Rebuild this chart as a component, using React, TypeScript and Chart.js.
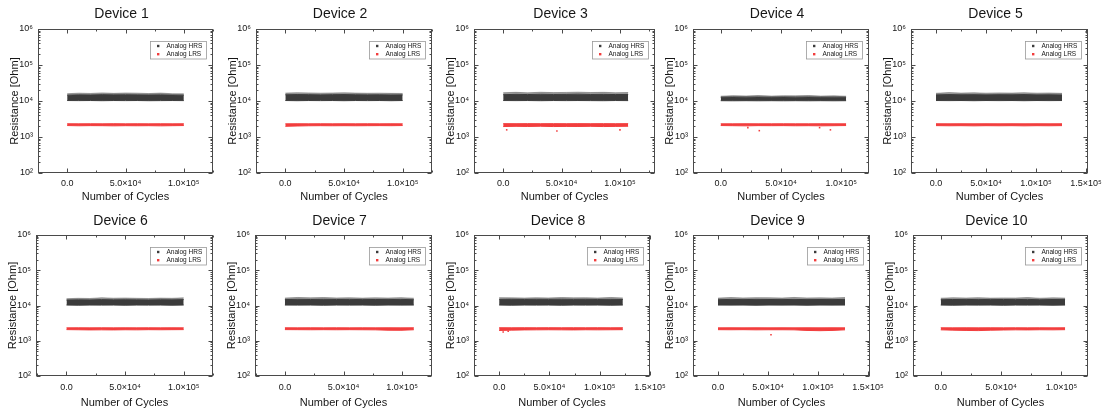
import React, { useEffect, useRef } from "react";
import { Chart, registerables } from "chart.js";

Chart.register(...registerables);

// ---------- text ----------
const deviceNames = ["Device 1", "Device 2", "Device 3", "Device 4", "Device 5", "Device 6", "Device 7", "Device 8", "Device 9", "Device 10"];
const seriesLabels = ["Analog HRS", "Analog LRS"];
const xAxisTitle = "Number of Cycles";
const yAxisTitle = "Resistance [Ohm]";

// ---------- ticks ----------
const xTickValues = [0, 50000, 100000, 150000];
const xTickLabels = ["0.0", "5.0×10⁴", "1.0×10⁵", "1.5×10⁵"];
const yTickValues = [100, 1000, 10000, 100000, 1000000];
const yTickLabels = ["10²", "10³", "10⁴", "10⁵", "10⁶"];

// ---------- axis ranges per device ----------
const xAxisMin = [-25000, -25000, -25000, -23000, -25000, -26000, -25500, -25000, -25000, -23000];
const xAxisMax = [125000, 125000, 130000, 123000, 152000, 125000, 125500, 150000, 152000, 122000];

// ---------- data (envelopes of the dense scatter bands) ----------
const cyclesTo100k = [0, 10000, 20000, 30000, 40000, 50000, 60000, 70000, 80000, 90000, 100000];
const cyclesD3 = [0, 11000, 21000, 32000, 43000, 54000, 64000, 75000, 86000, 96000, 107000];
const cyclesD4 = [0, 10000, 21000, 31000, 42000, 52000, 62000, 73000, 83000, 94000, 104000];
const cyclesD5 = [0, 13000, 25000, 38000, 50000, 63000, 76000, 88000, 101000, 113000, 126000];
const cyclesD7 = [0, 11000, 22000, 33000, 44000, 55000, 66000, 77000, 88000, 99000, 110000];
const cyclesD8 = [0, 12000, 25000, 37000, 49000, 62000, 74000, 86000, 98000, 111000, 123000];
const cyclesD9 = [0, 13000, 25000, 38000, 51000, 64000, 76000, 89000, 102000, 114000, 127000];
const cyclesD10 = [0, 10000, 21000, 31000, 41000, 52000, 62000, 72000, 82000, 93000, 103000];

const hrsLow1 = [10300, 10250, 10300, 10200, 10300, 10250, 10300, 10200, 10250, 10300, 10250];
const hrsHigh1 = [14500, 14800, 14700, 15000, 14800, 14900, 14800, 14700, 14800, 14600, 14500];
const hrsPeak1 = [15900, 16500, 16200, 16800, 16300, 16700, 16500, 16100, 16600, 15900, 15800];
const lrsLow1 = [2080, 2050, 2070, 2060, 2040, 2060, 2050, 2060, 2040, 2060, 2080];
const lrsHigh1 = [2330, 2320, 2330, 2320, 2340, 2320, 2330, 2320, 2330, 2320, 2330];

const hrsLow2 = [10300, 10200, 10300, 10250, 10300, 10200, 10300, 10250, 10300, 10200, 10300];
const hrsHigh2 = [14900, 15100, 15000, 14800, 15000, 15100, 14900, 14800, 14900, 14700, 14800];
const hrsPeak2 = [16600, 17000, 16800, 16500, 16700, 16900, 16600, 16400, 16500, 16300, 16200];
const lrsLow2 = [1980, 2020, 2050, 2060, 2050, 2060, 2050, 2060, 2070, 2060, 2080];
const lrsHigh2 = [2320, 2330, 2320, 2330, 2320, 2330, 2320, 2330, 2320, 2330, 2320];

const hrsLow3 = [10300, 10250, 10300, 10200, 10300, 10250, 10300, 10250, 10200, 10300, 10250];
const hrsHigh3 = [15000, 15300, 15100, 15400, 15200, 15300, 15500, 15200, 15300, 15100, 15200];
const hrsPeak3 = [17000, 17400, 16900, 17500, 17100, 17300, 17600, 17200, 17400, 17000, 17200];
const lrsLow3 = [1950, 1980, 1960, 1990, 1950, 1970, 1960, 1980, 1950, 1970, 1990];
const lrsHigh3 = [2350, 2340, 2350, 2340, 2350, 2340, 2350, 2340, 2350, 2340, 2350];
const lrsOutCycles3 = [3000, 46000, 100000];
const lrsOutValues3 = [1580, 1470, 1580];

const hrsLow4 = [10200, 10150, 10200, 10150, 10200, 10150, 10200, 10150, 10200, 10150, 10200];
const hrsHigh4 = [12700, 12900, 12800, 12900, 12700, 12900, 12800, 12900, 12700, 12800, 12700];
const hrsPeak4 = [13600, 14100, 13800, 14200, 13700, 14000, 13900, 14200, 13700, 13900, 13600];
const lrsLow4 = [2080, 2060, 2040, 2070, 2060, 2070, 2050, 2060, 2040, 2060, 2080];
const lrsHigh4 = [2320, 2320, 2330, 2320, 2320, 2330, 2320, 2320, 2330, 2320, 2320];
const lrsOutCycles4 = [22500, 32000, 82000, 91000];
const lrsOutValues4 = [1820, 1500, 1820, 1580];

const hrsLow5 = [10300, 10250, 10300, 10200, 10300, 10250, 10300, 10200, 10300, 10250, 10300];
const hrsHigh5 = [14800, 15100, 14900, 15000, 14800, 15000, 14900, 15100, 14800, 14900, 14700];
const hrsPeak5 = [16400, 17100, 16600, 16900, 16500, 16800, 16600, 17000, 16500, 16700, 16300];
const lrsLow5 = [2070, 2050, 2060, 2040, 2060, 2050, 2060, 2040, 2060, 2050, 2070];
const lrsHigh5 = [2330, 2320, 2330, 2320, 2330, 2320, 2330, 2320, 2330, 2320, 2330];

const hrsLow6 = [10300, 10200, 10300, 10250, 10300, 10200, 10300, 10250, 10300, 10200, 10300];
const hrsHigh6 = [14300, 14500, 14400, 14700, 14500, 14600, 14500, 14400, 14600, 14500, 14700];
const hrsPeak6 = [15600, 16000, 15800, 16600, 16100, 16300, 16000, 15800, 16200, 16000, 16500];
const lrsLow6 = [2070, 2050, 2030, 2040, 2030, 2050, 2040, 2060, 2050, 2060, 2070];
const lrsHigh6 = [2320, 2330, 2320, 2330, 2320, 2330, 2320, 2330, 2320, 2330, 2320];

const hrsLow7 = [10300, 10250, 10300, 10200, 10300, 10250, 10300, 10200, 10300, 10250, 10300];
const hrsHigh7 = [14700, 15000, 14800, 15000, 14800, 14900, 14700, 14800, 14700, 14900, 14600];
const hrsPeak7 = [16300, 16900, 16500, 16800, 16400, 16600, 16200, 16500, 16300, 16700, 16100];
const lrsLow7 = [2070, 2060, 2050, 2060, 2050, 2060, 2050, 2040, 1990, 1980, 2050];
const lrsHigh7 = [2330, 2320, 2330, 2320, 2330, 2320, 2330, 2320, 2330, 2320, 2330];

const hrsLow8 = [10300, 10200, 10300, 10250, 10300, 10200, 10300, 10250, 10300, 10200, 10300];
const hrsHigh8 = [14900, 15000, 14800, 15000, 14900, 15100, 14900, 15000, 14800, 15000, 14800];
const hrsPeak8 = [16700, 16500, 16300, 16600, 16400, 16800, 16500, 16600, 16300, 16900, 16400];
const lrsLow8 = [1950, 2000, 2030, 2040, 2050, 2040, 2030, 2050, 2040, 2050, 2060];
const lrsHigh8 = [2340, 2330, 2340, 2330, 2340, 2330, 2340, 2330, 2340, 2330, 2340];
const lrsOutCycles8 = [4000, 9000];
const lrsOutValues8 = [1760, 1850];

const hrsLow9 = [10300, 10250, 10300, 10200, 10300, 10250, 10300, 10200, 10300, 10250, 10300];
const hrsHigh9 = [14600, 14900, 14700, 14900, 14800, 14700, 14900, 14700, 14800, 14700, 14900];
const hrsPeak9 = [16200, 16800, 16400, 16700, 16600, 16300, 16900, 16400, 16500, 16300, 16800];
const lrsLow9 = [2060, 2050, 2060, 2040, 2050, 2050, 2040, 1960, 1930, 1960, 2040];
const lrsHigh9 = [2320, 2330, 2320, 2330, 2320, 2330, 2320, 2330, 2320, 2330, 2320];
const lrsOutCycles9 = [53000];
const lrsOutValues9 = [1480];

const hrsLow10 = [10300, 10200, 10300, 10250, 10300, 10200, 10300, 10250, 10300, 10200, 10300];
const hrsHigh10 = [14600, 14800, 14700, 14900, 14700, 14800, 14700, 14900, 14600, 14800, 14700];
const hrsPeak10 = [16100, 16600, 16300, 16700, 16200, 16400, 16300, 16800, 16100, 16500, 16200];
const lrsLow10 = [2040, 2000, 1960, 1940, 1990, 2020, 2040, 2030, 2050, 2040, 2060];
const lrsHigh10 = [2330, 2320, 2330, 2320, 2330, 2320, 2330, 2320, 2330, 2320, 2330];

const deviceData = [
  { cycles: cyclesTo100k, hrsLow: hrsLow1, hrsHigh: hrsHigh1, hrsPeak: hrsPeak1, lrsLow: lrsLow1, lrsHigh: lrsHigh1, outC: [], outV: [] },
  { cycles: cyclesTo100k, hrsLow: hrsLow2, hrsHigh: hrsHigh2, hrsPeak: hrsPeak2, lrsLow: lrsLow2, lrsHigh: lrsHigh2, outC: [], outV: [] },
  { cycles: cyclesD3, hrsLow: hrsLow3, hrsHigh: hrsHigh3, hrsPeak: hrsPeak3, lrsLow: lrsLow3, lrsHigh: lrsHigh3, outC: lrsOutCycles3, outV: lrsOutValues3 },
  { cycles: cyclesD4, hrsLow: hrsLow4, hrsHigh: hrsHigh4, hrsPeak: hrsPeak4, lrsLow: lrsLow4, lrsHigh: lrsHigh4, outC: lrsOutCycles4, outV: lrsOutValues4 },
  { cycles: cyclesD5, hrsLow: hrsLow5, hrsHigh: hrsHigh5, hrsPeak: hrsPeak5, lrsLow: lrsLow5, lrsHigh: lrsHigh5, outC: [], outV: [] },
  { cycles: cyclesTo100k, hrsLow: hrsLow6, hrsHigh: hrsHigh6, hrsPeak: hrsPeak6, lrsLow: lrsLow6, lrsHigh: lrsHigh6, outC: [], outV: [] },
  { cycles: cyclesD7, hrsLow: hrsLow7, hrsHigh: hrsHigh7, hrsPeak: hrsPeak7, lrsLow: lrsLow7, lrsHigh: lrsHigh7, outC: [], outV: [] },
  { cycles: cyclesD8, hrsLow: hrsLow8, hrsHigh: hrsHigh8, hrsPeak: hrsPeak8, lrsLow: lrsLow8, lrsHigh: lrsHigh8, outC: lrsOutCycles8, outV: lrsOutValues8 },
  { cycles: cyclesD9, hrsLow: hrsLow9, hrsHigh: hrsHigh9, hrsPeak: hrsPeak9, lrsLow: lrsLow9, lrsHigh: lrsHigh9, outC: lrsOutCycles9, outV: lrsOutValues9 },
  { cycles: cyclesD10, hrsLow: hrsLow10, hrsHigh: hrsHigh10, hrsPeak: hrsPeak10, lrsLow: lrsLow10, lrsHigh: lrsHigh10, outC: [], outV: [] },
];

// ---------- layout (page pixels) ----------
const plotLefts = [38, 256, 474, 693, 911, 36, 255, 474, 693, 913];
const plotRights = [213, 432, 655, 869, 1088, 213, 432, 650, 870, 1088];
const rowTops = [0, 208];
const rowPlotTops = [29, 235];
const rowPlotBottoms = [173, 376];
const rowTitleGap = [15, 14];
const rowXTickPad = [5, 6];
const rowXTitlePad = [4, 6];
const Y_AXIS_W = 38;
const RIGHT_PAD = 22;
const PANEL_H = 208;

// ---------- style ----------
const FONT = '"Liberation Sans", Arial, Helvetica, sans-serif';
const HRS_COLOR = "#3b3b3b";
const HRS_FRINGE = "rgba(59,59,59,0.5)";
const LRS_COLOR = "#f23d3d";
const TEXT_COLOR = "#161616";
const AXIS_COLOR = "#4a4a4a";
const X_MINOR_STEP = 25000;

const zip = (xs: number[], ys: number[]) => xs.map((x, i) => ({ x, y: ys[i] }));

const panelPlugin = {
  id: "panelDecor",
  afterDraw(chart: any) {
    const opts = chart.options.plugins.panelDecor;
    const { ctx, chartArea: a, scales } = chart;
    const xs = scales.x;
    const ys = scales.y;
    const L = Math.round(a.left) + 0.5;
    const R = Math.round(a.right) - 0.5;
    const T = Math.round(a.top) + 0.5;
    const B = Math.round(a.bottom) - 0.5;
    ctx.save();
    ctx.strokeStyle = AXIS_COLOR;
    ctx.lineWidth = 1;
    ctx.strokeRect(L, T, R - L, B - T);
    const tick = (x1: number, y1: number, x2: number, y2: number) => {
      ctx.beginPath();
      ctx.moveTo(x1, y1);
      ctx.lineTo(x2, y2);
      ctx.stroke();
    };
    const xmin = xs.min, xmax = xs.max;
    for (let v = Math.ceil(xmin / X_MINOR_STEP) * X_MINOR_STEP; v <= xmax; v += X_MINOR_STEP) {
      const major = v % 50000 === 0;
      const len = major ? 4 : 2;
      const px = Math.round(xs.getPixelForValue(v)) + 0.5;
      tick(px, B, px, B - len);
      tick(px, T, px, T + len);
    }
    for (let d = 2; d <= 6; d++) {
      const base = Math.pow(10, d);
      const py = Math.round(ys.getPixelForValue(base)) + 0.5;
      tick(L, py, L + 4, py);
      tick(R, py, R - 4, py);
      if (d < 6) {
        for (let m = 2; m <= 9; m++) {
          const pm = Math.round(ys.getPixelForValue(base * m)) + 0.5;
          tick(L, pm, L + 2, pm);
          tick(R, pm, R - 2, pm);
        }
      }
    }
    // title
    ctx.fillStyle = TEXT_COLOR;
    ctx.font = `14px ${FONT}`;
    ctx.textAlign = "center";
    ctx.textBaseline = "middle";
    ctx.fillText(opts.title, (a.left + a.right) / 2 - 4, a.top - opts.titleGap);
    // legend box
    const bw = 56, bh = 17.5;
    const bx = Math.round(a.right - 7 - bw) + 0.5;
    const by = Math.round(a.top + 12) + 0.5;
    ctx.fillStyle = "#ffffff";
    ctx.fillRect(bx, by, bw, bh);
    ctx.strokeStyle = "#9a9a9a";
    ctx.lineWidth = 0.8;
    ctx.strokeRect(bx, by, bw, bh);
    ctx.font = `6.5px ${FONT}`;
    ctx.textAlign = "left";
    const colors = [HRS_COLOR, LRS_COLOR];
    seriesLabels.forEach((lab, k) => {
      const cy = by + 4.5 + k * 8.2;
      ctx.fillStyle = colors[k];
      ctx.fillRect(bx + 6.5, cy - 1.2, 2.4, 2.4);
      ctx.fillStyle = TEXT_COLOR;
      ctx.fillText(lab, bx + 16, cy + 0.3);
    });
    ctx.restore();
  },
};

function Panel({ index }: { index: number }) {
  const ref = useRef<HTMLCanvasElement | null>(null);
  const row = index < 5 ? 0 : 1;
  const canvasLeft = plotLefts[index] - Y_AXIS_W;
  const canvasW = plotRights[index] - canvasLeft + RIGHT_PAD;
  const canvasTop = rowTops[row];

  useEffect(() => {
    if (!ref.current) return;
    const d = deviceData[index];
    const padTop = rowPlotTops[row] - canvasTop;
    const xAxisH = canvasTop + PANEL_H - rowPlotBottoms[row];
    const chart = new Chart(ref.current, {
      type: "line",
      data: {
        datasets: [
          { label: "HRS low", data: zip(d.cycles, d.hrsLow), borderColor: HRS_COLOR, borderWidth: 1, pointRadius: 0, fill: false, tension: 0 },
          { label: seriesLabels[0], data: zip(d.cycles, d.hrsHigh), borderColor: HRS_COLOR, backgroundColor: HRS_COLOR, borderWidth: 1, pointRadius: 0, fill: "-1", tension: 0 },
          { label: "HRS peak", data: zip(d.cycles, d.hrsPeak), borderColor: HRS_FRINGE, backgroundColor: HRS_FRINGE, borderWidth: 0.8, pointRadius: 0, fill: "-1", tension: 0 },
          { label: "LRS low", data: zip(d.cycles, d.lrsLow), borderColor: LRS_COLOR, borderWidth: 1, pointRadius: 0, fill: false, tension: 0 },
          { label: seriesLabels[1], data: zip(d.cycles, d.lrsHigh), borderColor: LRS_COLOR, backgroundColor: LRS_COLOR, borderWidth: 1, pointRadius: 0, fill: "-1", tension: 0 },
          { label: "LRS outliers", data: zip(d.outC, d.outV), showLine: false, pointStyle: "rect", pointRadius: 1.1, backgroundColor: LRS_COLOR, borderWidth: 0, fill: false },
        ],
      } as any,
      options: {
        animation: false,
        responsive: false,
        events: [],
        layout: { padding: { top: padTop, right: RIGHT_PAD, left: 0, bottom: 0 } },
        plugins: {
          legend: { display: false },
          tooltip: { enabled: false },
          title: { display: false },
          panelDecor: { title: deviceNames[index], titleGap: rowTitleGap[row] },
        } as any,
        scales: {
          x: {
            type: "linear",
            min: xAxisMin[index],
            max: xAxisMax[index],
            afterBuildTicks: (s: any) => {
              s.ticks = xTickValues.filter((v) => v >= s.min && v <= s.max).map((v) => ({ value: v }));
            },
            afterFit: (s: any) => {
              s.height = xAxisH;
            },
            grid: { display: false, drawTicks: false },
            border: { display: false },
            ticks: {
              autoSkip: false,
              maxRotation: 0,
              padding: rowXTickPad[row],
              color: TEXT_COLOR,
              font: { family: FONT, size: 9 },
              callback: (v: any) => {
                const k = xTickValues.indexOf(Number(v));
                return k >= 0 ? xTickLabels[k] : "";
              },
            },
            title: {
              display: true,
              text: xAxisTitle,
              color: TEXT_COLOR,
              font: { family: FONT, size: 11 },
              padding: { top: 0, bottom: rowXTitlePad[row] },
            },
          },
          y: {
            type: "logarithmic",
            min: 100,
            max: 1000000,
            afterBuildTicks: (s: any) => {
              s.ticks = yTickValues.map((v) => ({ value: v }));
            },
            afterFit: (s: any) => {
              s.width = Y_AXIS_W;
            },
            grid: { display: false, drawTicks: false },
            border: { display: false },
            ticks: {
              autoSkip: false,
              padding: 5,
              color: TEXT_COLOR,
              font: { family: FONT, size: 9 },
              callback: (v: any) => {
                const k = yTickValues.indexOf(Number(v));
                return k >= 0 ? yTickLabels[k] : "";
              },
            },
            title: {
              display: true,
              text: yAxisTitle,
              color: TEXT_COLOR,
              font: { family: FONT, size: 11 },
              padding: { top: 8, bottom: 0 },
            },
          },
        } as any,
      },
      plugins: [panelPlugin],
    });
    return () => chart.destroy();
  }, [index]);

  return (
    <canvas
      ref={ref}
      width={canvasW}
      height={PANEL_H}
      style={{ position: "absolute", left: canvasLeft, top: canvasTop, width: canvasW, height: PANEL_H }}
    />
  );
}

export default function App() {
  return (
    <div
      style={{
        position: "fixed",
        left: 0,
        top: 0,
        width: 1109,
        height: 416,
        overflow: "hidden",
        background: "#ffffff",
      }}
    >
      {deviceNames.map((_, i) => (
        <Panel key={i} index={i} />
      ))}
    </div>
  );
}
